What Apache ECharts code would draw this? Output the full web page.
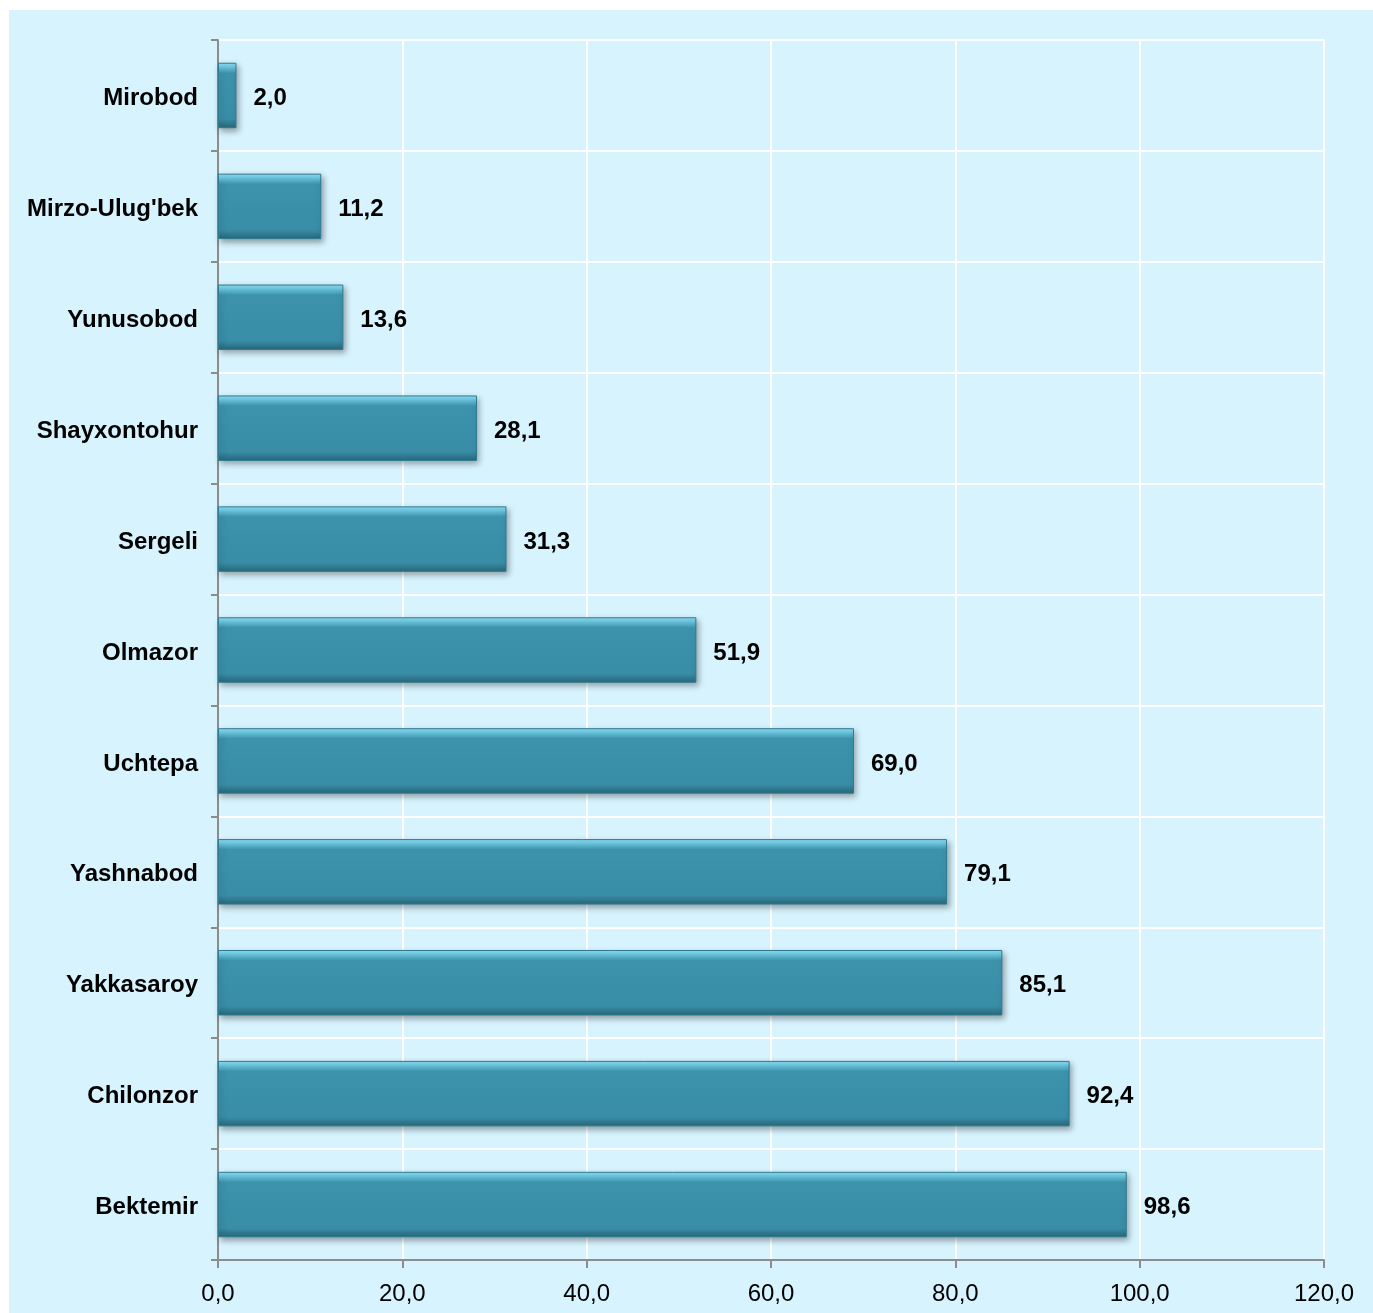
<!DOCTYPE html>
<html>
<head>
<meta charset="utf-8">
<script src="https://cdn.jsdelivr.net/npm/echarts@6/dist/echarts.min.js"></script>
<style>
    html, body { margin: 0; padding: 0; background: #fff; }
    #chart-container { width: 1373px; height: 1313px; }
</style>
</head>
<body>
<div id="chart-container"></div>
<script>
(function(window, echarts){
    'use strict';

    // districts, top to bottom
    var categories = ['Mirobod', "Mirzo-Ulug'bek", 'Yunusobod', 'Shayxontohur', 'Sergeli',
        'Olmazor', 'Uchtepa', 'Yashnabod', 'Yakkasaroy', 'Chilonzor', 'Bektemir'];
    var values = [2.0, 11.2, 13.6, 28.1, 31.3, 51.9, 69.0, 79.1, 85.1, 92.4, 98.6];

    var fmt = function(v) {
        return Number(v).toFixed(1).replace('.', ',');
    };

    var chart = echarts.init(document.getElementById('chart-container'));

    var barColor = new echarts.graphic.LinearGradient(0, 0, 0, 1, [
        {offset: 0, color: '#8fe0f5'},
        {offset: 0.06, color: '#70cde6'},
        {offset: 0.16, color: '#3d93ac'},
        {offset: 0.86, color: '#398da6'},
        {offset: 0.94, color: '#2f778c'},
        {offset: 1, color: '#28687b'}
    ]);

    chart.setOption({
        backgroundColor: '#ffffff',
        animation: false,
        graphic: [{
            type: 'rect',
            z: -10,
            silent: true,
            shape: {x: 9, y: 10, width: 1364, height: 1303},
            style: {fill: '#d7f3fd'}
        }],
        grid: {left: 218, right: 49, top: 40, bottom: 53, containLabel: false},
        xAxis: {
            type: 'value',
            min: 0,
            max: 120,
            interval: 20,
            axisLine: {show: true, lineStyle: {color: '#8c8c8c', width: 2}},
            axisTick: {show: true, length: 8, lineStyle: {color: '#8c8c8c', width: 2}},
            splitLine: {show: true, lineStyle: {color: '#ffffff', width: 2}},
            axisLabel: {
                color: '#000',
                fontFamily: 'Liberation Sans, Arial',
                fontSize: 24,
                margin: 22,
                formatter: fmt
            }
        },
        yAxis: {
            type: 'category',
            inverse: true,
            data: categories,
            axisLine: {show: true, lineStyle: {color: '#8c8c8c', width: 2}},
            axisTick: {show: true, length: 7, lineStyle: {color: '#8c8c8c', width: 2}},
            splitLine: {show: true, lineStyle: {color: '#ffffff', width: 2}},
            axisLabel: {
                margin: 20,
                formatter: function(v) { return '{c|' + v + '}'; },
                rich: {
                    c: {
                        color: '#000',
                        fontFamily: 'Liberation Sans, Arial',
                        fontSize: 24,
                        fontWeight: 'bold',
                        padding: [6, 0, 0, 0]
                    }
                }
            }
        },
        series: [{
            type: 'bar',
            data: values,
            barCategoryGap: '41%',
            itemStyle: {
                color: barColor,
                borderColor: '#2e7a90',
                borderWidth: 1,
                shadowColor: 'rgba(0,0,0,0.35)',
                shadowBlur: 6,
                shadowOffsetX: 2,
                shadowOffsetY: 3
            },
            label: {
                show: true,
                position: 'right',
                distance: 17,
                offset: [0, 3],
                color: '#000',
                fontFamily: 'Liberation Sans, Arial',
                fontSize: 24,
                fontWeight: 'bold',
                formatter: function(p) { return fmt(p.value); }
            }
        }]
    });

})(window, window.echarts);
</script>
</body>
</html>
